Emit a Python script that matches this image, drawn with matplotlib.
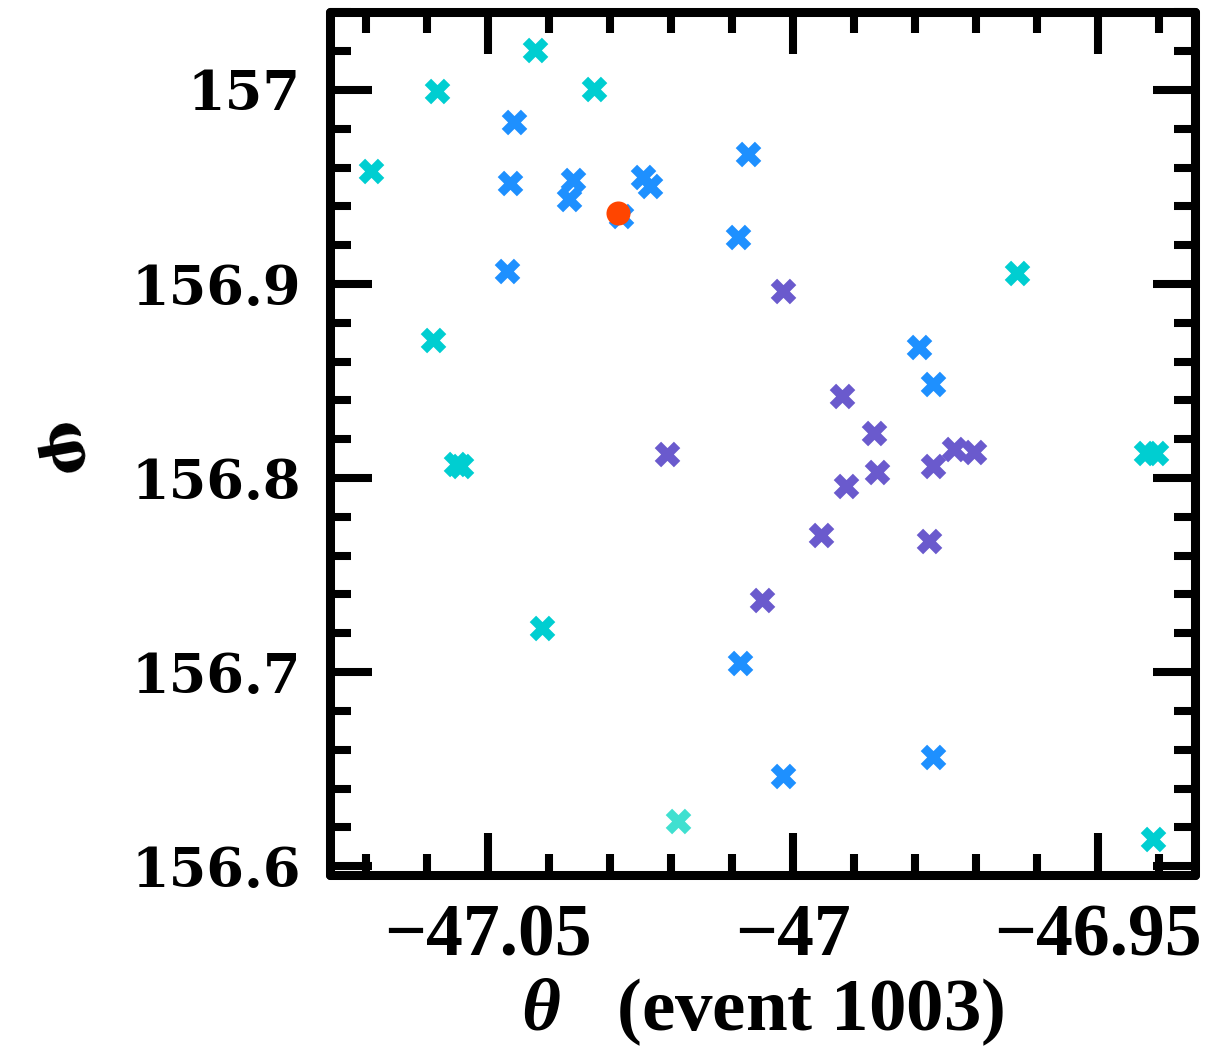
import matplotlib
matplotlib.use("Agg")
import matplotlib.pyplot as plt
from matplotlib.ticker import MultipleLocator, FuncFormatter

# candidate positions, grouped by colour class
cyan_x = [-47.0423, -47.0584, -47.0326, -47.0692, -47.0590, -47.0552, -47.0544,
          -47.0411, -46.9633, -46.9421, -46.9405, -46.9410]
cyan_y = [157.0207, 156.9995, 157.0005, 156.9580, 156.8710, 156.8073, 156.8062,
          156.7228, 156.9057, 156.8130, 156.8130, 156.6140]

turq_x = [-47.0189]
turq_y = [156.6233]

blue_x = [-47.0457, -47.0464, -47.0361, -47.0367, -47.0246, -47.0234, -47.0282,
          -47.0469, -47.0074, -47.0090, -46.9793, -46.9770, -47.0087, -47.0016,
          -46.9770]
blue_y = [156.9834, 156.9523, 156.9534, 156.9440, 156.9554, 156.9503, 156.9352,
          156.9067, 156.9668, 156.9244, 156.8674, 156.8487, 156.7047, 156.6466,
          156.6560]

slate_x = [-47.0016, -46.9920, -46.9867, -46.9862, -46.9913, -46.9770, -46.9736,
           -46.9703, -46.9954, -46.9777, -47.0051, -47.0207]
slate_y = [156.8964, 156.8425, 156.8233, 156.8031, 156.7959, 156.8062, 156.8150,
           156.8135, 156.7705, 156.7674, 156.7373, 156.8124]

event_x = [-47.0287]
event_y = [156.9368]

x_ticks = [-47.05, -47.0, -46.95]
y_ticks = [156.6, 156.7, 156.8, 156.9, 157.0]

plt.rcParams["mathtext.fontset"] = "custom"
plt.rcParams["mathtext.it"] = "Liberation Serif:italic:bold"
plt.rcParams["mathtext.rm"] = "Liberation Serif:bold"

fig = plt.figure(figsize=(12.13, 10.52), dpi=100)
ax = fig.add_axes([0.272, 0.168, 0.713, 0.821])

ms = 340
ax.scatter(cyan_x, cyan_y, marker="X", s=ms, color="#00CED1", linewidths=0, zorder=3)
ax.scatter(turq_x, turq_y, marker="X", s=ms, color="#40E0D0", linewidths=0, zorder=3)
ax.scatter(blue_x, blue_y, marker="X", s=ms, color="#1E90FF", linewidths=0, zorder=3)
ax.scatter(slate_x, slate_y, marker="X", s=ms, color="#6A5ACD", linewidths=0, zorder=3)
ax.scatter(event_x, event_y, marker="o", s=300, color="#FF4500", linewidths=0, zorder=4)

ax.set_xlim(-47.0759, -46.9341)
ax.set_ylim(156.5953, 157.0404)

ax.set_xticks(x_ticks)
ax.xaxis.set_minor_locator(MultipleLocator(0.01))
ax.set_yticks(y_ticks)
ax.yaxis.set_minor_locator(MultipleLocator(0.02))

ax.xaxis.set_major_formatter(FuncFormatter(lambda v, p: f"{v:g}".replace("-", "\u2212")))
ax.yaxis.set_major_formatter(FuncFormatter(lambda v, p: f"{v:g}"))

for s in ax.spines.values():
    s.set_linewidth(6.5)
    s.set_capstyle("round")

ax.tick_params(which="both", direction="in", top=True, right=True, width=5.8, color="black")
ax.tick_params(which="major", length=30)
ax.tick_params(which="minor", length=15)
ax.tick_params(axis="x", which="major", pad=20)
ax.tick_params(axis="y", which="major", pad=21)

for lab in ax.get_xticklabels():
    lab.set_fontfamily("Liberation Serif")
    lab.set_fontweight("bold")
    lab.set_fontsize(53)
for lab in ax.get_yticklabels():
    lab.set_fontfamily("DejaVu Serif")
    lab.set_fontweight("bold")
    lab.set_fontsize(39)

ax.set_xlabel(r"$\theta$   (event 1003)", fontfamily="Liberation Serif",
              fontweight="bold", fontsize=54, labelpad=4)
fig.text(0.053, 0.573, "\u03c6", fontfamily="DejaVu Serif", fontweight="bold",
         fontsize=44, rotation=-80, ha="center", va="center")

fig.savefig("out.png", dpi=100, facecolor="white")
